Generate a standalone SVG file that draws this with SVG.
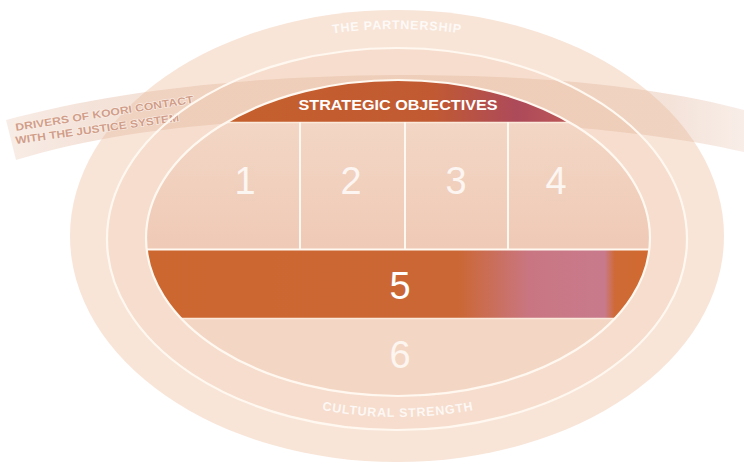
<svg xmlns="http://www.w3.org/2000/svg" width="744" height="465" viewBox="0 0 744 465">
<style>
.wl{fill:none;stroke:#fff8f0;stroke-width:2.2}
.num{font-family:"Liberation Sans",Arial,sans-serif;font-size:38px;fill:#ffffff;text-anchor:middle}
.ring{font-family:"Liberation Sans",Arial,sans-serif;font-weight:bold;fill:#ffffff;opacity:0.8}
.drv{font-family:"Liberation Sans",Arial,sans-serif;font-weight:bold;font-size:10.5px;fill:#d19e8a;stroke:#fbefe8;stroke-width:1.2;paint-order:stroke}
</style>
<defs>
<clipPath id="innerClip"><ellipse cx="398" cy="238" rx="252" ry="158"/></clipPath>
<linearGradient id="capGrad" x1="228" y1="0" x2="568" y2="0" gradientUnits="userSpaceOnUse">
<stop offset="0" stop-color="#c5602d"/>
<stop offset="0.6" stop-color="#c15a32"/>
<stop offset="0.85" stop-color="#ad4a5a"/>
<stop offset="1" stop-color="#bb5656"/>
</linearGradient>
<linearGradient id="fiveGrad" x1="146" y1="0" x2="650" y2="0" gradientUnits="userSpaceOnUse">
<stop offset="0" stop-color="#cd6730"/>
<stop offset="0.62" stop-color="#cb6735"/>
<stop offset="0.76" stop-color="#c97682"/>
<stop offset="0.91" stop-color="#c87a8c"/>
<stop offset="0.93" stop-color="#cf6a36"/>
<stop offset="1" stop-color="#d06a30"/>
</linearGradient>
<linearGradient id="cellGrad" x1="0" y1="122" x2="0" y2="249" gradientUnits="userSpaceOnUse">
<stop offset="0" stop-color="#f3d6c5"/>
<stop offset="1" stop-color="#efcab6"/>
</linearGradient>
<linearGradient id="bandGrad" x1="0" y1="0" x2="744" y2="0" gradientUnits="userSpaceOnUse">
<stop offset="0" stop-color="#e4b9a1" stop-opacity="0.25"/>
<stop offset="0.12" stop-color="#e2b49a" stop-opacity="0.38"/>
<stop offset="0.9" stop-color="#e2b49a" stop-opacity="0.38"/>
<stop offset="1" stop-color="#e4b9a1" stop-opacity="0.25"/>
</linearGradient>
<path id="topArc" d="M 86,237 A 311 208 0 0 1 708,237"/>
<path id="botArc" d="M 124,238 A 274 179 0 0 0 672,238"/>
</defs>

<g id="partnership">
<ellipse cx="397" cy="236" rx="327" ry="226" fill="#f8e5d8"/>
<text class="ring" font-size="12.5" letter-spacing="0.8"><textPath href="#topArc" startOffset="50%" text-anchor="middle">THE PARTNERSHIP</textPath></text>
</g>

<g id="cultural-strength">
<ellipse cx="397" cy="239" rx="290" ry="191" fill="#f6ddcd"/>
<text class="ring" font-size="12.5" letter-spacing="0.8"><textPath href="#botArc" startOffset="50%" text-anchor="middle">CULTURAL STRENGTH</textPath></text>
</g>

<g id="drivers">
<path d="M 6,120 C 110,92 240,76 400,75 C 560,75 670,90 744,110 L 744,152 C 670,135 560,122 400,118 C 250,117 120,128 16,160 Z" fill="url(#bandGrad)"/>
<text class="drv" transform="translate(16,131) rotate(-9)" textLength="180" lengthAdjust="spacingAndGlyphs">DRIVERS OF KOORI CONTACT</text>
<text class="drv" transform="translate(16,144) rotate(-8)" textLength="165" lengthAdjust="spacingAndGlyphs">WITH THE JUSTICE SYSTEM</text>
</g>

<g id="objective-6" clip-path="url(#innerClip)">
<rect x="140" y="78" width="520" height="320" fill="#f4d6c4"/>
<text class="num" x="400" y="368" opacity="0.75">6</text>
</g>

<g id="strategic-objectives" clip-path="url(#innerClip)">
<rect x="140" y="78" width="520" height="44" fill="url(#capGrad)"/>
<text x="398" y="110" font-family="'Liberation Sans',Arial,sans-serif" font-weight="bold" font-size="14" fill="#ffffff" text-anchor="middle" textLength="199" lengthAdjust="spacingAndGlyphs">STRATEGIC OBJECTIVES</text>
</g>

<g id="objectives-1-4" clip-path="url(#innerClip)">
<rect x="140" y="123" width="520" height="126" fill="url(#cellGrad)"/>
<line x1="140" y1="122.5" x2="660" y2="122.5" stroke="#fbe9dc" stroke-width="1.5"/>
<line x1="300" y1="122" x2="300" y2="249" stroke="#fff8f0" stroke-width="2"/>
<line x1="405" y1="122" x2="405" y2="249" stroke="#fff8f0" stroke-width="2"/>
<line x1="508" y1="122" x2="508" y2="249" stroke="#fff8f0" stroke-width="2"/>
<text class="num" x="245" y="194" opacity="0.8">1</text>
<text class="num" x="351" y="194" opacity="0.8">2</text>
<text class="num" x="456" y="194" opacity="0.8">3</text>
<text class="num" x="556" y="194" opacity="0.8">4</text>
</g>

<g id="objective-5" clip-path="url(#innerClip)">
<rect x="140" y="250" width="520" height="68" fill="url(#fiveGrad)"/>
<line x1="140" y1="249.5" x2="660" y2="249.5" stroke="#fff8f0" stroke-width="2"/>
<line x1="140" y1="318.5" x2="660" y2="318.5" stroke="#fbe9dc" stroke-width="1.5"/>
<text class="num" x="400" y="299">5</text>
</g>

<g id="boundaries">
<ellipse class="wl" cx="398" cy="238" rx="252" ry="158"/>
<ellipse class="wl" cx="397" cy="239" rx="290" ry="191"/>
</g>

<g id="connectors"/>
</svg>
